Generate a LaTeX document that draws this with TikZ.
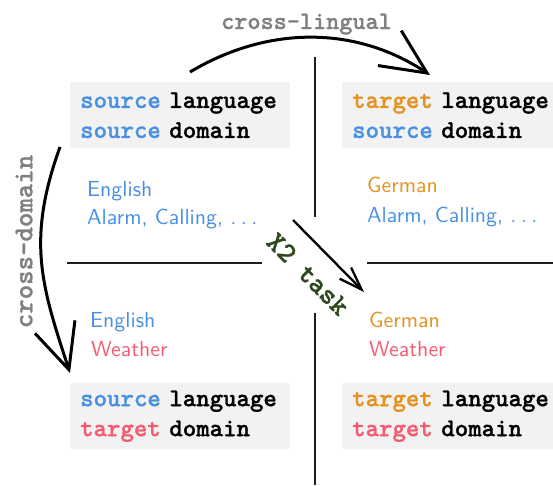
\documentclass[tikz,border=0pt]{standalone}
\usepackage{fontspec}
\usetikzlibrary{arrows.meta,calc}
\newfontfamily\qmono{lmmonolt10-bold.otf}[FakeBold=1.0]
\newfontfamily\qsans{lmsans10-regular.otf}
\definecolor{qblue}{RGB}{74,144,226}
\definecolor{qorange}{RGB}{228,146,34}
\definecolor{qred}{RGB}{242,92,112}
\definecolor{qgreen}{RGB}{45,72,28}
\definecolor{qgray}{RGB}{128,128,128}
\definecolor{qbox}{RGB}{242,242,242}
\definecolor{qline}{RGB}{30,30,30}
\newcommand{\qdots}{.\hspace{0.2em}.\hspace{0.2em}.}
\begin{document}
\begin{tikzpicture}[x=1pt,y=-1pt,
  box/.style={fill=qbox, anchor=north west, minimum width=220pt, minimum height=66pt,
    inner xsep=10pt, inner ysep=0pt, text width=200pt, align=left,
    font=\qmono\fontsize{25.6}{30}\selectfont},
  info/.style={anchor=base west, inner sep=0pt, font=\qsans\fontsize{21.8}{28}\selectfont},
  arrowlabel/.style={inner sep=0pt, font=\qmono\fontsize{25}{30}\selectfont},
  divider/.style={qline, line width=1.8pt},
  bigarrow/.style={line width=3pt, -{Straight Barb[length=45pt,width=42pt]}},
  midarrow/.style={line width=2.3pt, -{Straight Barb[length=23pt,width=16pt]}}
]
\useasboundingbox (0,0) rectangle (553,485);

% dividers
\coordinate (vtop) at (315,57);
\coordinate (vmida) at (315,217);
\coordinate (vmidb) at (315,313);
\coordinate (vbot) at (315,485);
\coordinate (hla) at (67,263);
\coordinate (hlb) at (262,263);
\coordinate (hra) at (367,263);
\coordinate (hrb) at (553,263);
\draw[divider] (vtop) -- (vmida);
\draw[divider] (vmidb) -- (vbot);
\draw[divider] (hla) -- (hlb);
\draw[divider] (hra) -- (hrb);

% boxes
\node[box] (tl) at (70,82) {\textcolor{qblue}{source} language\\\textcolor{qblue}{source} domain};
\node[box] (tr) at (342,82) {\textcolor{qorange}{target} language\\\textcolor{qblue}{source} domain};
\node[box] (bl) at (70,383) {\textcolor{qblue}{source} language\\\textcolor{qred}{target} domain};
\node[box] (br) at (342,383) {\textcolor{qorange}{target} language\\\textcolor{qred}{target} domain};

% quadrant texts
\node[info, text=qblue] (tla) at (87,196) {English};
\node[info, text=qblue] (tlb) at (87,224.5) {Alarm, Calling, \qdots};
\node[info, text=qorange] (tra) at (367,192) {German};
\node[info, text=qblue] (trb) at (367,222) {Alarm, Calling, \qdots};
\node[info, text=qblue] (bla) at (90,327) {English};
\node[info, text=qred] (blb) at (91,356) {Weather};
\node[info, text=qorange] (bra) at (369,327) {German};
\node[info, text=qred] (brb) at (369,356) {Weather};

% cross-lingual
\coordinate (cls) at (190,72);
\coordinate (cle) at (430,75);
\draw[bigarrow] (cls) .. controls (267,26) and (355,25) .. (cle);
\node[arrowlabel, text=qgray, anchor=base west] (cll) at (221,29) {cross-lingual};

% cross-domain
\coordinate (cds) at (60,147);
\coordinate (cde) at (70,373);
\draw[bigarrow] (cds) .. controls (26,241) and (42,287) .. (cde);
\node[arrowlabel, text=qgray, rotate=90, font=\qmono\fontsize{27.5}{30}\selectfont] (cdl) at (24,241.5) {cross-domain};

% X2 task
\coordinate (xs) at (293,220);
\coordinate (xe) at (364,292);
\draw[midarrow] (xs) -- (xe);
\node[arrowlabel, text=qgreen, rotate=-45, font=\qmono\fontsize{28.5}{30}\selectfont] (xl) at (308,274) {X2 task};
\end{tikzpicture}
\end{document}
